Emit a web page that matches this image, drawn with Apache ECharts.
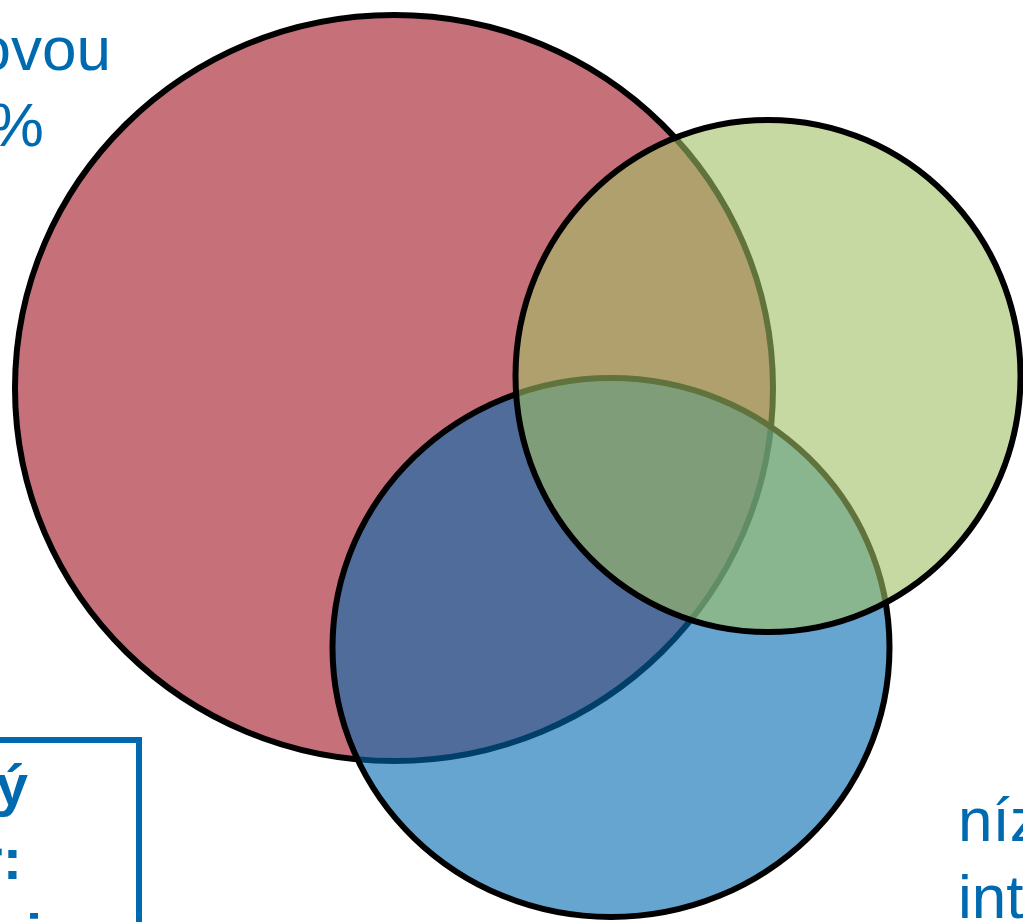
<!DOCTYPE html>
<html>
<head>
<meta charset="utf-8">
<script src="https://cdn.jsdelivr.net/npm/echarts@6/dist/echarts.min.js"></script>
<style>
html,body{margin:0;padding:0;background:#fff;}
#chart{width:1023px;height:922px;}
</style>
</head>
<body>
<div id="chart"></div>
<script>
// Venn sets (drawing order: red, blue, green)
const setNames = ['A', 'B', 'C'];
const centerX = [394, 611, 768];
const centerY = [388, 647.5, 376];
const radiusX = [379, 278.5, 252.5];
const radiusY = [373, 269.5, 256];

// text fragments visible in the crop
const topLeftLines = ['s cenovou', '> 50 %'];
const boxLines = ['Celkový', 'soubor:', 'osobami'];
const bottomRightLines = ['nízká', 'intenzita'];

const fills = ['rgba(160,17,33,0.6)', 'rgba(0,105,175,0.6)', 'rgba(160,192,100,0.6)'];
const textBlue = '#006AB0';
const FONT = "'Liberation Sans', Arial, sans-serif";

const data = setNames.map((n, i) => ({ name: n, value: [centerX[i], centerY[i], radiusX[i], radiusY[i]] }));

// text placed by baseline (middle-aligned with offset of 0.3em)
function txt(str, x, baseline, size, bold, align) {
  return {
    type: 'text', z: 10,
    style: {
      text: str, x: x, y: baseline - 0.3 * size,
      textAlign: align, textVerticalAlign: 'middle',
      font: (bold ? 'bold ' : '') + size + 'px ' + FONT,
      fill: textBlue
    }
  };
}

const chart = echarts.init(document.getElementById('chart'), null, { renderer: 'canvas' });
chart.setOption({
  animation: false,
  grid: { left: 0, right: 0, top: 0, bottom: 0 },
  xAxis: { type: 'value', min: 0, max: 1023, show: false },
  yAxis: { type: 'value', min: 0, max: 922, inverse: true, show: false },
  series: [{
    type: 'custom',
    coordinateSystem: 'cartesian2d',
    data: data,
    renderItem: function (params, api) {
      const c = api.coord([api.value(0), api.value(1)]);
      const s = api.size([api.value(2), api.value(3)]);
      return {
        type: 'ellipse',
        z2: params.dataIndex,
        shape: { cx: c[0], cy: c[1], rx: s[0], ry: s[1] },
        style: { fill: fills[params.dataIndex], stroke: '#000', lineWidth: 6 }
      };
    }
  }],
  graphic: [
    txt(topLeftLines[0], 111, 72, 62, false, 'right'),
    txt(topLeftLines[1], 44, 148, 62, false, 'right'),
    { type: 'rect', z: 10, shape: { x: -20, y: 740, width: 159, height: 260 }, style: { fill: 'rgba(0,0,0,0)', stroke: textBlue, lineWidth: 6 } },
    txt(boxLines[0], 28, 806, 58, true, 'right'),
    txt(boxLines[1], 22, 880, 58, true, 'right'),
    txt(boxLines[2], 42, 956, 58, true, 'right'),
    txt(bottomRightLines[0], 958, 843, 62, false, 'left'),
    txt(bottomRightLines[1], 958, 920, 62, false, 'left')
  ]
});
</script>
</body>
</html>
